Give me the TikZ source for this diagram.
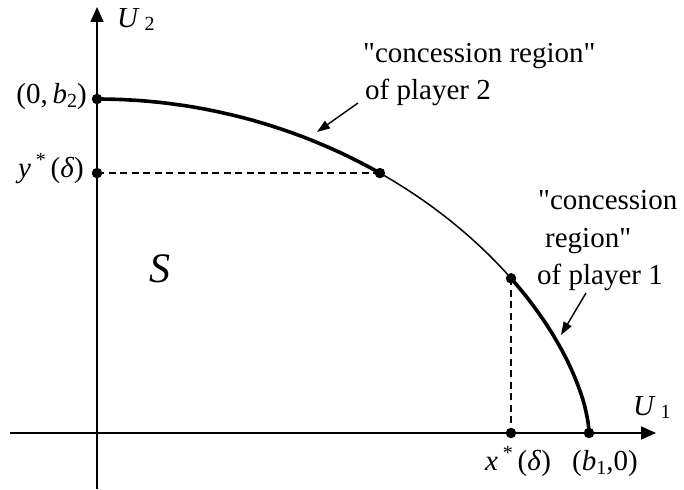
\documentclass[tikz,border=0pt]{standalone}
\usepackage{fontspec}
\setmainfont{Liberation Serif}[Ligatures=TeXOff]
\usetikzlibrary{arrows.meta}
\begin{document}
\begin{tikzpicture}[x=1pt,y=-1pt,
  declare function={cu(\t)=97+492*cos(\t); cv(\t)=433-334*pow(sin(\t),1.25);},
  axis/.style={line width=1.8pt,-{Triangle[length=15pt,width=13pt]}},
  thickc/.style={line width=3.6pt,line join=round},
  thinc/.style={line width=1.5pt,line join=round},
  guide/.style={line width=1.4pt,dash pattern=on 7pt off 4.5pt},
  dot/.style={circle,fill=black,inner sep=0pt,minimum size=10.5pt},
  lbl/.style={inner sep=0pt,font=\fontsize{29}{35}\selectfont},
  callout/.style={line width=1.4pt,-{Triangle[length=13pt,width=9pt]}}]
\useasboundingbox (0,0) rectangle (684,489);
% axes
\coordinate (xs) at (10,433);
\coordinate (xe) at (656,433);
\coordinate (ys) at (97,489);
\coordinate (ye) at (97,7);
\draw[axis] (xs) -- (xe);
\draw[axis] (ys) -- (ye);
% curve
\draw[thickc] plot[domain=89.99:54.9,samples=60,variable=\t] ({cu(\t)},{cv(\t)});
\draw[thinc] plot[domain=54.9:32.7,samples=40,variable=\t] ({cu(\t)},{cv(\t)});
\draw[thickc] plot[domain=32.7:0.01,samples=80,variable=\t] ({cu(\t)},{cv(\t)});
% points
\node[dot] (b2) at (97,99) {};
\node[dot] (p1) at ({cu(54.9)},{cv(54.9)}) {};
\node[dot] (p2) at ({cu(32.7)},{cv(32.7)}) {};
\node[dot] (b1) at (589,433) {};
\node[dot] (ystar) at (ys |- p1) {};
\node[dot] (xstar) at (p2 |- xs) {};
\draw[guide] (ystar.center) -- (p1.center);
\draw[guide] (p2.center) -- (xstar.center);
% labels
\node[lbl,anchor=base west] (u2) at (117,28) {\textit{U}\,\raisebox{-3pt}{\fontsize{20}{20}\selectfont 2}};
\node[lbl,anchor=base west] (u1) at (633,415) {\textit{U}\,\raisebox{-3pt}{\fontsize{20}{20}\selectfont 1}};
\node[lbl,anchor=base east] (lb2) at (87,104) {(0,\,\textit{b}\raisebox{-4pt}{\fontsize{20}{20}\selectfont 2})};
\node[lbl,anchor=base east] (lys) at (84,177) {\textit{y}\,\raisebox{11pt}{\fontsize{20}{20}\selectfont *}\,(\textit{δ})};
\node[lbl,anchor=base west] (lxs) at (485,470) {\textit{x}\,\raisebox{11pt}{\fontsize{20}{20}\selectfont *}\,(\textit{δ})};
\node[lbl,anchor=base west] (lb1) at (572,470) {(\textit{b}\raisebox{-4pt}{\fontsize{20}{20}\selectfont 1},0)};
\node[lbl,font=\fontsize{42}{42}\selectfont\itshape] (S) at (160,269) {S};
% callouts
\node[lbl,anchor=base west] (c2a) at (363,63) {"concession region"};
\node[lbl,anchor=base west] (c2b) at (365,100) {of player 2};
\node[lbl,anchor=base west] (c1a) at (538,209) {"concession};
\node[lbl,anchor=base west] (c1b) at (545,247) {region"};
\node[lbl,anchor=base west] (c1c) at (537,284) {of player 1};
\coordinate (a2s) at (358,103);
\coordinate (a2e) at (317,132);
\coordinate (a1s) at (586,293);
\coordinate (a1e) at (561,335);
\draw[callout] (a2s) -- (a2e);
\draw[callout] (a1s) -- (a1e);
\end{tikzpicture}
\end{document}
